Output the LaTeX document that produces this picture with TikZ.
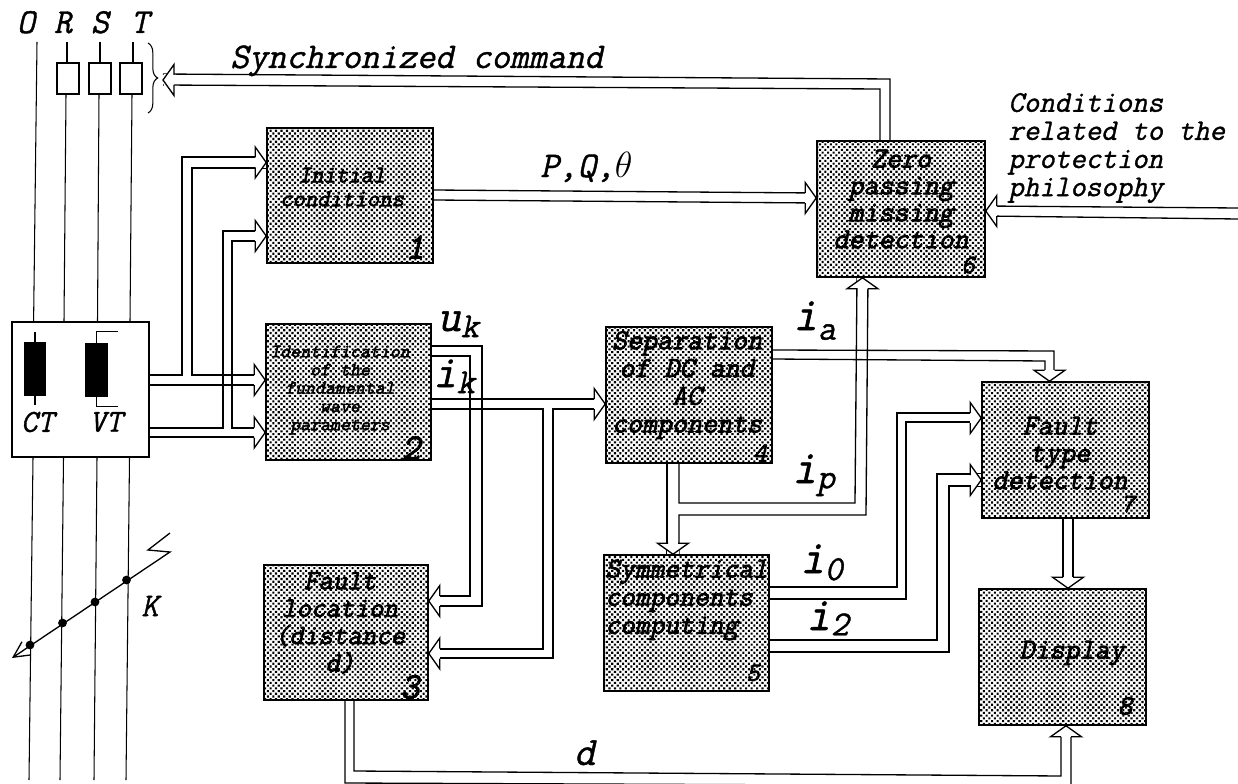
\documentclass[tikz,border=0pt]{standalone}
\usepackage{fontspec}
\usepackage{tikz}
\usetikzlibrary{arrows.meta,patterns.meta,decorations.pathreplacing}
\newfontfamily\heavyfam{Latin Modern Mono}[FakeBold=2.3,FakeSlant=0.22]
\newfontfamily\labelfam{Latin Modern Mono}[FakeBold=1.1,FakeSlant=0.22]
\tikzset{
  fbox/.style={rectangle, draw=black, line width=0.9pt, inner sep=0pt,
               pattern={Dots[radius=0.85pt,distance=2.2pt,angle=45]}, pattern color=black},
  plainbox/.style={rectangle, draw=black, line width=0.8pt, inner sep=0pt, fill=white},
  core/.style={rectangle, fill=black, inner sep=0pt},
  wire/.style={line width=0.75pt, black},
  phase/.style={line width=0.6pt, black},
  tapdot/.style={circle, fill=black, inner sep=0pt, minimum size=5pt},
  boxtext/.style 2 args={font=\heavyfam\fontsize{#1}{#2}\selectfont,
                         align=center, inner sep=0pt},
  numtext/.style={font=\heavyfam\fontsize{#1}{#1}\selectfont, inner sep=0pt},
  lbltext/.style={font=\labelfam\fontsize{#1}{#1}\selectfont,
                  anchor=base west, inner sep=0pt},
  pics/hollowhead/.style={code={
    \fill[white] (-11,-6) rectangle (-0.5,6);
    \fill[white] (-11,-15.5) -- (0,0) -- (-11,15.5) -- cycle;
    \draw[wire,line join=miter] (-11,-5) -- (-11,-15.5) -- (0,0) -- (-11,15.5) -- (-11,5);
  }},
}
\newcommand{\sublbl}[3]{#1\raisebox{-#3pt}{\fontsize{20}{20}\selectfont #2}}
\begin{document}
\begin{tikzpicture}[x=0.02cm,y=-0.02cm]
  \useasboundingbox (0,0) rectangle (1238,784);

  % Processing blocks
  \foreach \nm/\cx/\cy/\w/\h in {init/350/195.5/166/135, ident/348.5/392/165/136,
      locat/346/632.5/164/135, separ/689/395/166/136, symm/686.5/623/165/136,
      zero/901/209/168/136, ftype/1065.5/450/167/136, displ/1062.5/657/167/136}{
    \node[fbox, minimum width=\w*0.02cm, minimum height=\h*0.02cm] (\nm) at (\cx,\cy) {};
  }

  % Block texts
  \node[boxtext={13.7}{13.6}] (txtinit) at (342,187) {Initial\\conditions};
  \node[boxtext={10.8}{10.4}] (txtident) at (340,390) {Identification\\of the\\fundamental\\wave\\parameters};
  \node[boxtext={16}{15.6}] (txtlocat) at (340,623) {Fault\\location\\(distance\\d)};
  \node[boxtext={16.6}{15.8}] (txtsepar) at (687,385) {Separation\\of DC and\\AC\\components};
  \node[boxtext={16.3}{16},anchor=west,align=left] (txtsymm) at (605,600) {Symmetrical\\components\\computing};
  \node[boxtext={16.6}{15.3}] (txtzero) at (901,199) {Zero\\passing\\missing\\detection};
  \node[boxtext={16.6}{15.5}] (txtftype) at (1060,453) {Fault\\type\\detection};
  \node[boxtext={16.6}{15.5}] (txtdispl) at (1072,653) {Display};

  % Block numbers
  \foreach \n/\x/\y/\s in {1/415/247/21, 2/411/448/21, 3/410/687/21, 4/760/453/16,
      5/753/673/15, 6/968/265/15, 7/1128/504/15, 8/1125/706/16}{
    \node[numtext=\s] (num\n) at (\x,\y) {\n};
  }

  % Phase lines and breakers
  \node[plainbox, minimum width=137*0.02cm, minimum height=135*0.02cm] (meas) at (80.5,389.5) {};
  \foreach \nm/\cx in {R/68, S/100, T/131}{
    \node[plainbox, minimum width=22*0.02cm, minimum height=31*0.02cm] (brk\nm) at (\cx,78.5) {};
  }
  \foreach \nm/\x in {O/26, R/63, S/100, T/140}{
    \node[lbltext=20, anchor=base] (lbl\nm) at (\x,33) {\nm};
  }
  \draw[phase] (37,42) -- (33.6,0 |- meas.north);
  \draw[phase] (33,0 |- meas.south) -- (29,780);
  \foreach \nm/\xa/\xb/\xc/\xd in {R/67/64/63.5/60, S/100/97.5/97/94, T/133/130/129.5/126}{
    \draw[phase] (\xa,42) -- (\xa,0 |- brk\nm.north);
    \draw[phase] (\xa-1,0 |- brk\nm.south) -- (\xb,0 |- meas.north);
    \draw[phase] (\xc,0 |- meas.south) -- (\xd,780);
  }
  \draw[phase,decorate,decoration={brace,amplitude=5.5pt}] (148,43) -- (148,113);

  % CT and VT
  \node[core, minimum width=22*0.02cm, minimum height=54*0.02cm] (ctcore) at (35,369) {};
  \node[core, minimum width=23*0.02cm, minimum height=54*0.02cm] (vtcore) at (96.5,370) {};
  \draw[phase] (ctcore.north) -- ++(0,-10);
  \draw[phase] (ctcore.south) -- ++(0,9);
  \draw[phase] (vtcore.north) -- ++(0,-11) -- ++(21,0);
  \draw[phase] (vtcore.south) -- ++(0,9) -- ++(21,0);
  \node[lbltext=18.3, anchor=center] (ctname) at (37.5,422) {CT};
  \node[lbltext=18.3, anchor=center] (vtname) at (106,422) {VT};

  % Fault line
  \draw[line width=0.75pt,-{Straight Barb[length=9pt,width=9pt]}] (170,533) -- (148,550) -- (170,552) -- (12,658);
  \foreach \n/\x/\y in {a/30/645, b/62.5/623, c/95/602, d/126.5/580}{
    \node[tapdot] (tap\n) at (\x,\y) {};
  }
  \node[lbltext=19, anchor=center] (kname) at (150,606) {K};

  % Inputs of blocks 1 and 2
  \draw[wire] (meas.east |- 0,375) -- (182,375) -- (182,157) -- (init.west |- 0,157);
  \draw[wire] (ident.west |- 0,375) -- (192,375) -- (192,168) -- (init.west |- 0,168);
  \draw[wire] (meas.east |- 0,385) -- (ident.west |- 0,385);
  \draw[wire] (meas.east |- 0,428) -- (223,428) -- (223,231) -- (init.west |- 0,231);
  \draw[wire] (ident.west |- 0,428) -- (232,428) -- (232,241) -- (init.west |- 0,241);
  \draw[wire] (meas.east |- 0,437) -- (ident.west |- 0,437);

  % uk and ik
  \draw[wire] (ident.east |- 0,346) -- (482,346) -- (482,606) -- (locat.east |- 0,606);
  \draw[wire] (ident.east |- 0,356) -- (470,356) -- (470,596) -- (locat.east |- 0,596);
  \draw[wire] (ident.east |- 0,399) -- (separ.west |- 0,399);
  \draw[wire] (ident.east |- 0,409) -- (543,409) -- (543,649) -- (locat.east |- 0,649);
  \draw[wire] (separ.west |- 0,409) -- (553,409) -- (553,658) -- (locat.east |- 0,658);

  % ia and ip
  \draw[wire] (separ.east |- 0,350) -- (1054,351) -- (1054,0 |- ftype.north);
  \draw[wire] (separ.east |- 0,359) -- (1045,361) -- (1045,0 |- ftype.north);
  \draw[wire] (667,0 |- separ.south) -- (667,0 |- symm.north);
  \draw[wire] (679,0 |- separ.south) -- (679,503) -- (855,503) -- (857,0 |- zero.south);
  \draw[wire] (679,0 |- symm.north) -- (679,515) -- (866,515) -- (868,0 |- zero.south);

  % i0 and i2
  \draw[wire] (symm.east |- 0,587) -- (897,587) -- (897,413) -- (ftype.west |- 0,413);
  \draw[wire] (symm.east |- 0,599) -- (906,599) -- (906,422) -- (ftype.west |- 0,422);
  \draw[wire] (symm.east |- 0,640) -- (937,640) -- (937,474) -- (ftype.west |- 0,474);
  \draw[wire] (symm.east |- 0,652) -- (949,652) -- (949,486) -- (ftype.west |- 0,486);

  % Block 1 to 6, synchronized command, conditions
  \coordinate (cmd) at (163,80);
  \coordinate (cond) at (1238,213);
  \draw[wire] (init.east |- 0,190) -- (zero.west |- 0,193);
  \draw[wire] (init.east |- 0,200) -- (zero.west |- 0,203);
  \draw[wire] (890,0 |- zero.north) -- (890,79) -- (cmd |- 0,74);
  \draw[wire] (880,0 |- zero.north) -- (880,89) -- (cmd |- 0,85);
  \draw[wire] (zero.east |- 0,206) -- (cond |- 0,208);
  \draw[wire] (zero.east |- 0,216) -- (cond |- 0,219);

  % Display
  \draw[wire] (1063,0 |- ftype.south) -- (1063,0 |- displ.north);
  \draw[wire] (1073,0 |- ftype.south) -- (1073,0 |- displ.north);
  \draw[wire] (354,0 |- locat.south) -- (354,771) -- (1061,776) -- (1061,0 |- displ.south);
  \draw[wire] (345,0 |- locat.south) -- (345,783) -- (1071,786) -- (1071,0 |- displ.south);

  % Arrow heads
  \foreach \nd/\yy in {init/162.5, init/236, ident/380, ident/432.5, separ/404, zero/198, ftype/418, ftype/480}{
    \pic at (\nd.west |- 0,\yy) {hollowhead};
  }
  \foreach \nd/\yy in {locat/601, locat/653.5, zero/211}{
    \pic[rotate=180] at (\nd.east |- 0,\yy) {hollowhead};
  }
  \foreach \nd/\xx in {symm/673, ftype/1049.5, displ/1068}{
    \pic[rotate=-90] at (\xx,0 |- \nd.north) {hollowhead};
  }
  \foreach \nd/\xx in {zero/862.5, displ/1066}{
    \pic[rotate=90] at (\xx,0 |- \nd.south) {hollowhead};
  }
  \pic[rotate=180] at (cmd) {hollowhead};

  % Signal labels
  \node[lbltext=20.6] (lblsync) at (230,68) {Synchronized command};
  \node[lbltext=20.6] (lblpq) at (540,177) {P,Q,$\theta$};
  \node[font=\labelfam\fontsize{17.1}{16}\selectfont, inner sep=0pt, anchor=west, align=left] (lblcond) at (1008,148) {Conditions\\related to the\\protection\\philosophy};
  \node[lbltext=26] (lbluk) at (437,331) {\sublbl{u}{k}{3.5}};
  \node[lbltext=26] (lblik) at (433,387) {\sublbl{i}{k}{3.5}};
  \node[lbltext=27] (lblia) at (793,330) {\sublbl{i}{a}{5.5}};
  \node[lbltext=27] (lblip) at (792,483) {\sublbl{i}{p}{3}};
  \node[lbltext=27] (lbli0) at (800,573) {\sublbl{i}{0}{4}};
  \node[lbltext=27] (lbli2) at (806,630) {\sublbl{i}{2}{3}};
  \node[lbltext=23] (lbld) at (574,765) {d};
\end{tikzpicture}
\end{document}
